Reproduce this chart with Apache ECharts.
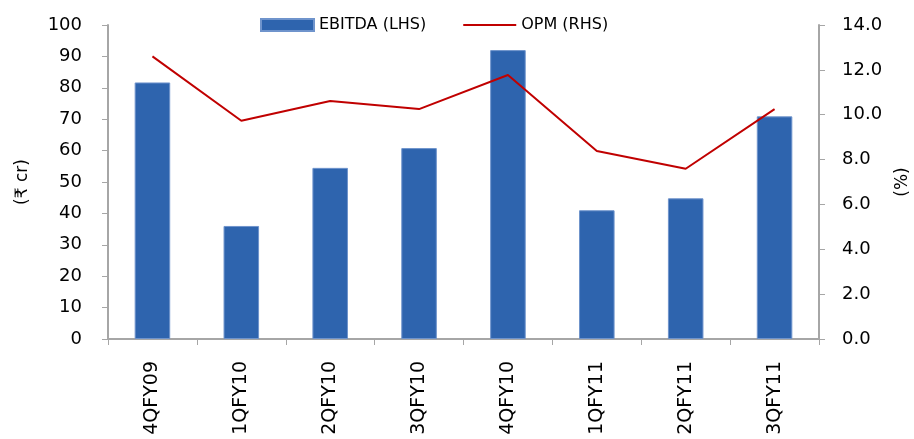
<!DOCTYPE html>
<html>
<head>
<meta charset="utf-8">
<script src="https://cdn.jsdelivr.net/npm/echarts@6/dist/echarts.min.js"></script>
<style>
  html, body { margin: 0; padding: 0; background: #fff; }
  #chart { width: 914px; height: 439px; }
</style>
</head>
<body>
<div id="chart"></div>
<script>
// quarters on the x axis
let quarters = ["4QFY09", "1QFY10", "2QFY10", "3QFY10", "4QFY10", "1QFY11", "2QFY11", "3QFY11"]
// EBITDA, Rs crore (left axis)
let ebitda = [81.7, 36, 54.5, 60.8, 92, 41, 44.8, 70.9]
// operating margin, % (right axis)
let opm = [12.6, 9.73, 10.61, 10.25, 11.77, 8.38, 7.59, 10.25]

let font = "DejaVu Sans"
let axisGrey = "#a6a6a6"

let myChart = echarts.init(document.getElementById("chart"))
myChart.setOption({
  animation: false,
  textStyle: { fontFamily: font },
  grid: { left: 108, right: 95, top: 25, bottom: 100, outerBoundsMode: "none" },
  legend: {
    top: 12,
    left: 255,
    itemGap: 36,
    itemWidth: 53,
    itemHeight: 12,
    textStyle: { fontSize: 16, color: "#000", fontFamily: font },
    data: [
      { name: "EBITDA (LHS)", icon: "rect" },
      { name: "OPM (RHS)", itemStyle: { opacity: 0 } }
    ]
  },
  xAxis: {
    type: "category",
    data: quarters,
    axisLine: { lineStyle: { color: axisGrey, width: 2 } },
    axisTick: { show: true, alignWithLabel: false, length: 6, lineStyle: { color: axisGrey } },
    axisLabel: { rotate: 90, fontSize: 19, color: "#000", margin: 22, interval: 0 }
  },
  yAxis: [
    {
      type: "value",
      min: 0,
      max: 100,
      interval: 10,
      name: "(₹ cr)",
      nameLocation: "middle",
      nameRotate: 90,
      nameGap: 77,
      nameTextStyle: { fontSize: 17, color: "#000" },
      splitLine: { show: false },
      axisLine: { show: true, lineStyle: { color: axisGrey, width: 2 } },
      axisTick: { show: true, length: 6, lineStyle: { color: axisGrey } },
      axisLabel: { fontSize: 18, color: "#000", margin: 26 }
    },
    {
      type: "value",
      min: 0,
      max: 14,
      interval: 2,
      name: "(%)",
      nameLocation: "middle",
      nameRotate: 90,
      nameGap: 75,
      nameTextStyle: { fontSize: 17, color: "#000" },
      splitLine: { show: false },
      axisLine: { show: true, lineStyle: { color: axisGrey, width: 2 } },
      axisTick: { show: true, length: 6, lineStyle: { color: axisGrey } },
      axisLabel: {
        fontSize: 18,
        color: "#000",
        margin: 23,
        formatter: (v) => v.toFixed(1)
      }
    }
  ],
  series: [
    {
      name: "EBITDA (LHS)",
      type: "bar",
      data: ebitda,
      barWidth: "40%",
      itemStyle: { color: "#2e64ae", borderColor: "#6f94cc", borderWidth: 1 }
    },
    {
      name: "OPM (RHS)",
      type: "line",
      yAxisIndex: 1,
      data: opm,
      symbol: "none",
      lineStyle: { color: "#c00000", width: 2 },
      itemStyle: { color: "#c00000" }
    }
  ]
})
</script>
</body>
</html>
